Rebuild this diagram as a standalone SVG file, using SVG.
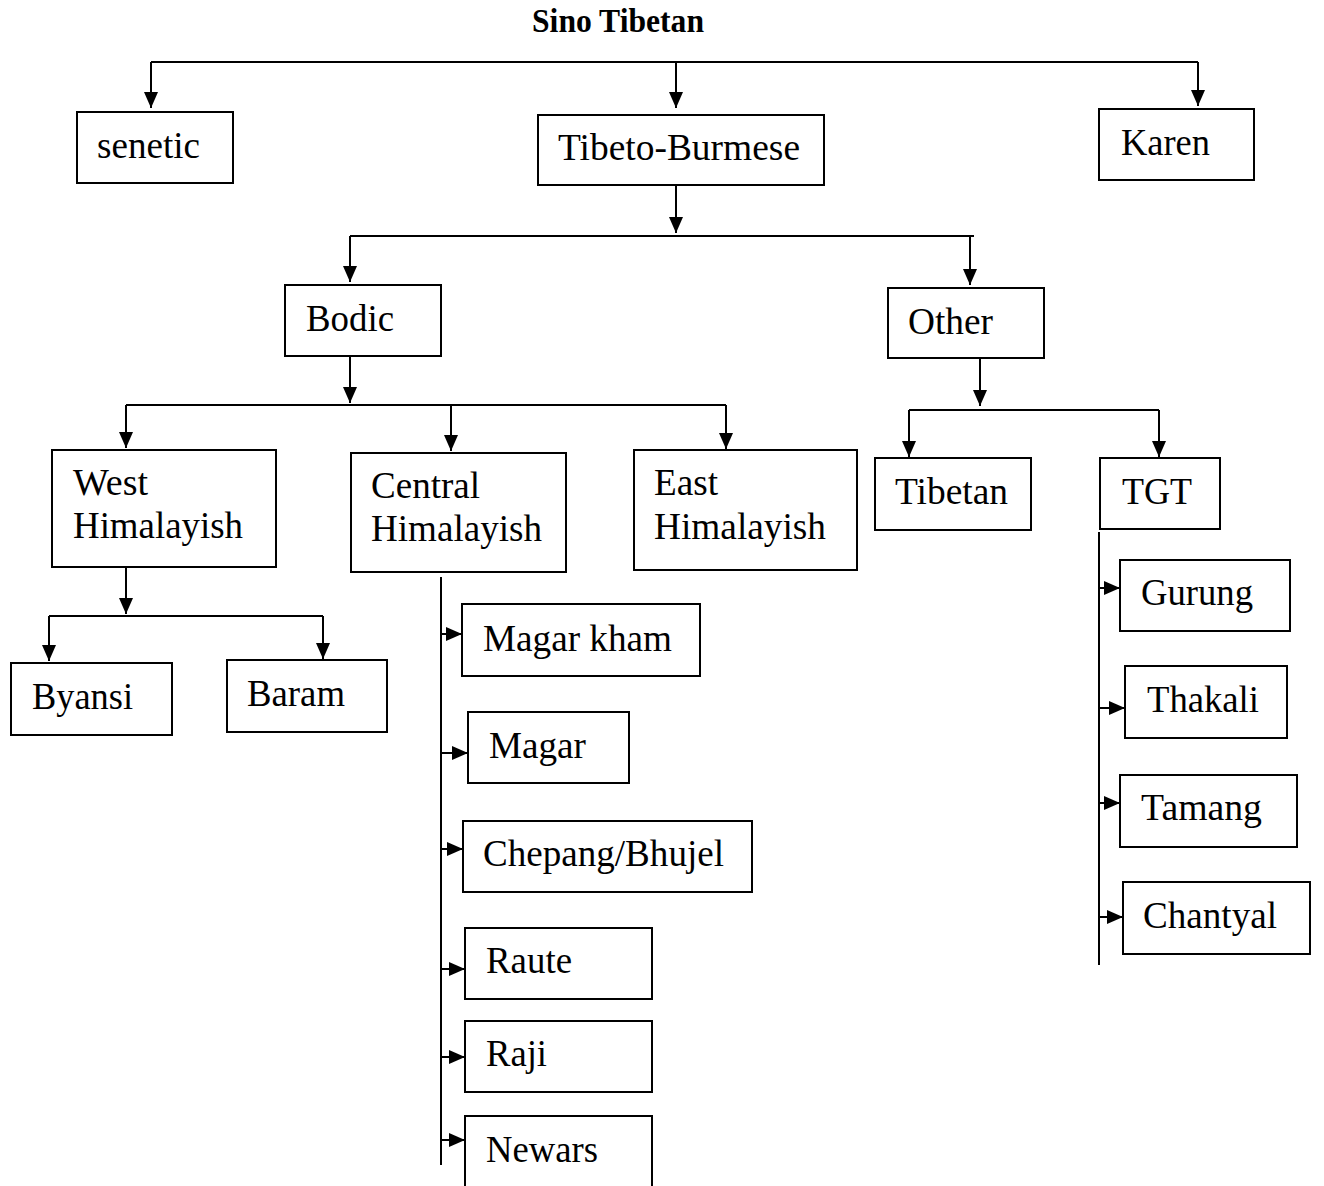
<svg xmlns="http://www.w3.org/2000/svg" width="1324" height="1186" viewBox="0 0 1324 1186">
<style>
.b{fill:#fff;stroke:#000;stroke-width:2}
.t{font-family:"Liberation Serif","Times New Roman",serif;font-size:38px;fill:#000}
.h{font-family:"Liberation Serif","Times New Roman",serif;font-size:33px;font-weight:bold;fill:#000}
.c{fill:none;stroke:#000;stroke-width:2}
</style>
<defs>
<marker id="a" markerUnits="userSpaceOnUse" markerWidth="16" markerHeight="14" refX="16" refY="7" orient="auto">
<path d="M0,0 L16,7 L0,14 z" fill="#000"/>
</marker>
</defs>
<rect width="1324" height="1186" fill="#fff"/>
<text class="h" x="532" y="32" textLength="172" lengthAdjust="spacingAndGlyphs">Sino Tibetan</text>
<g id="connectors">
<path class="c" d="M151,62 H1198"/>
<path class="c" d="M151,62 V108" marker-end="url(#a)"/>
<path class="c" d="M676,62 V108" marker-end="url(#a)"/>
<path class="c" d="M1198,62 V106" marker-end="url(#a)"/>
<path class="c" d="M676,185 V233" marker-end="url(#a)"/>
<path class="c" d="M350,236 H974"/>
<path class="c" d="M350,236 V282" marker-end="url(#a)"/>
<path class="c" d="M970,236 V285" marker-end="url(#a)"/>
<path class="c" d="M350,356 V403" marker-end="url(#a)"/>
<path class="c" d="M126,405 H726"/>
<path class="c" d="M126,405 V448" marker-end="url(#a)"/>
<path class="c" d="M451,405 V451" marker-end="url(#a)"/>
<path class="c" d="M726,405 V449" marker-end="url(#a)"/>
<path class="c" d="M980,358 V406" marker-end="url(#a)"/>
<path class="c" d="M909,410 H1159"/>
<path class="c" d="M909,410 V457" marker-end="url(#a)"/>
<path class="c" d="M1159,410 V457" marker-end="url(#a)"/>
<path class="c" d="M126,567 V614" marker-end="url(#a)"/>
<path class="c" d="M49,616 H323"/>
<path class="c" d="M49,616 V661" marker-end="url(#a)"/>
<path class="c" d="M323,616 V659" marker-end="url(#a)"/>
<path class="c" d="M441,577 V1165"/>
<path class="c" d="M441,634 H462" marker-end="url(#a)"/>
<path class="c" d="M441,753 H468" marker-end="url(#a)"/>
<path class="c" d="M441,849 H463" marker-end="url(#a)"/>
<path class="c" d="M441,969 H465" marker-end="url(#a)"/>
<path class="c" d="M441,1057 H465" marker-end="url(#a)"/>
<path class="c" d="M441,1140 H465" marker-end="url(#a)"/>
<path class="c" d="M1099,532 V965"/>
<path class="c" d="M1099,588 H1120" marker-end="url(#a)"/>
<path class="c" d="M1099,708 H1125" marker-end="url(#a)"/>
<path class="c" d="M1099,803 H1120" marker-end="url(#a)"/>
<path class="c" d="M1099,917 H1123" marker-end="url(#a)"/>
</g>
<g id="senetic"><rect class="b" x="77" y="112" width="156" height="71"/><text class="t" x="97" y="158" textLength="103" lengthAdjust="spacingAndGlyphs">senetic</text></g>
<g id="tibeto-burmese"><rect class="b" x="538" y="115" width="286" height="70"/><text class="t" x="558" y="160" textLength="242" lengthAdjust="spacingAndGlyphs">Tibeto-Burmese</text></g>
<g id="karen"><rect class="b" x="1099" y="109" width="155" height="71"/><text class="t" x="1121" y="155" textLength="89" lengthAdjust="spacingAndGlyphs">Karen</text></g>
<g id="bodic"><rect class="b" x="285" y="285" width="156" height="71"/><text class="t" x="306" y="331" textLength="88" lengthAdjust="spacingAndGlyphs">Bodic</text></g>
<g id="other"><rect class="b" x="888" y="288" width="156" height="70"/><text class="t" x="908" y="334" textLength="85" lengthAdjust="spacingAndGlyphs">Other</text></g>
<g id="west-himalayish"><rect class="b" x="52" y="450" width="224" height="117"/><text class="t" x="73" y="495" textLength="75" lengthAdjust="spacingAndGlyphs">West</text><text class="t" x="73" y="538" textLength="170" lengthAdjust="spacingAndGlyphs">Himalayish</text></g>
<g id="central-himalayish"><rect class="b" x="351" y="453" width="215" height="119"/><text class="t" x="371" y="498" textLength="109" lengthAdjust="spacingAndGlyphs">Central</text><text class="t" x="371" y="541" textLength="171" lengthAdjust="spacingAndGlyphs">Himalayish</text></g>
<g id="east-himalayish"><rect class="b" x="634" y="450" width="223" height="120"/><text class="t" x="654" y="495" textLength="64" lengthAdjust="spacingAndGlyphs">East</text><text class="t" x="654" y="539" textLength="172" lengthAdjust="spacingAndGlyphs">Himalayish</text></g>
<g id="tibetan"><rect class="b" x="875" y="458" width="156" height="72"/><text class="t" x="895" y="504" textLength="113" lengthAdjust="spacingAndGlyphs">Tibetan</text></g>
<g id="tgt"><rect class="b" x="1100" y="458" width="120" height="71"/><text class="t" x="1122" y="504" textLength="70" lengthAdjust="spacingAndGlyphs">TGT</text></g>
<g id="byansi"><rect class="b" x="11" y="663" width="161" height="72"/><text class="t" x="32" y="709" textLength="101" lengthAdjust="spacingAndGlyphs">Byansi</text></g>
<g id="baram"><rect class="b" x="227" y="660" width="160" height="72"/><text class="t" x="247" y="706" textLength="98" lengthAdjust="spacingAndGlyphs">Baram</text></g>
<g id="magar-kham"><rect class="b" x="462" y="604" width="238" height="72"/><text class="t" x="483" y="651" textLength="189" lengthAdjust="spacingAndGlyphs">Magar kham</text></g>
<g id="magar"><rect class="b" x="468" y="712" width="161" height="71"/><text class="t" x="489" y="758" textLength="97" lengthAdjust="spacingAndGlyphs">Magar</text></g>
<g id="chepang-bhujel"><rect class="b" x="463" y="821" width="289" height="71"/><text class="t" x="483" y="866" textLength="241" lengthAdjust="spacingAndGlyphs">Chepang/Bhujel</text></g>
<g id="raute"><rect class="b" x="465" y="928" width="187" height="71"/><text class="t" x="486" y="973" textLength="86" lengthAdjust="spacingAndGlyphs">Raute</text></g>
<g id="raji"><rect class="b" x="465" y="1021" width="187" height="71"/><text class="t" x="486" y="1066" textLength="61" lengthAdjust="spacingAndGlyphs">Raji</text></g>
<g id="newars"><rect class="b" x="465" y="1116" width="187" height="80"/><text class="t" x="486" y="1162" textLength="112" lengthAdjust="spacingAndGlyphs">Newars</text></g>
<g id="gurung"><rect class="b" x="1120" y="560" width="170" height="71"/><text class="t" x="1141" y="605" textLength="112" lengthAdjust="spacingAndGlyphs">Gurung</text></g>
<g id="thakali"><rect class="b" x="1125" y="666" width="162" height="72"/><text class="t" x="1147" y="712" textLength="112" lengthAdjust="spacingAndGlyphs">Thakali</text></g>
<g id="tamang"><rect class="b" x="1120" y="775" width="177" height="72"/><text class="t" x="1141" y="820" textLength="121" lengthAdjust="spacingAndGlyphs">Tamang</text></g>
<g id="chantyal"><rect class="b" x="1123" y="882" width="187" height="72"/><text class="t" x="1143" y="928" textLength="134" lengthAdjust="spacingAndGlyphs">Chantyal</text></g>
</svg>
